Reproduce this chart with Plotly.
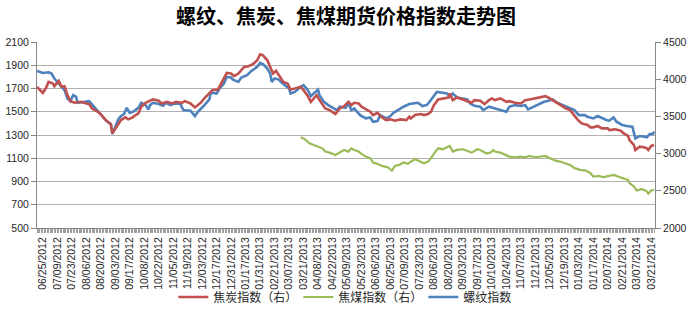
import plotly.graph_objects as go

title_text = "螺纹、焦炭、焦煤期货价格指数走势图"

tick_labels = [
    "06/25/2012", "07/09/2012", "07/23/2012", "08/06/2012", "08/20/2012", "09/03/2012",
    "09/17/2012", "10/08/2012", "10/22/2012", "11/05/2012", "11/19/2012", "12/03/2012",
    "12/17/2012", "12/31/2012", "01/17/2013", "01/31/2013", "02/21/2013", "03/07/2013",
    "03/21/2013", "04/08/2013", "04/22/2013", "05/09/2013", "05/23/2013", "06/06/2013",
    "06/25/2013", "07/09/2013", "07/23/2013", "08/06/2013", "08/20/2013", "09/03/2013",
    "09/17/2013", "10/10/2013", "10/24/2013", "11/07/2013", "11/21/2013", "12/05/2013",
    "12/19/2013", "01/03/2014", "01/17/2014", "02/07/2014", "02/21/2014", "03/07/2014",
    "03/21/2014",
]
days_per_label = 10

# 螺纹指数 (left axis): trading-day index, value
rebar_days = [
    -4, 0, 4, 6, 8, 12, 15, 17, 19, 21, 23, 24, 28, 32, 35, 38, 41, 44, 47, 48, 50, 52, 54, 56, 58,
    60, 62, 63, 66, 68, 71, 73, 74, 76, 80, 83, 85, 88, 91, 95, 97,
    98, 102, 105, 107, 111, 115, 116, 120, 122, 125, 127, 130, 131, 135, 137, 141, 144, 148, 150,
    152, 155, 157, 158, 160, 163, 165, 168, 170, 171, 174, 178, 180, 183, 185, 187, 190, 191, 194,
    197, 199, 203,
    205, 209, 211, 213, 215, 219, 223, 226, 228, 231, 233, 237, 240, 242, 246, 249, 253, 256, 259,
    262, 265, 267, 270, 272, 276, 279, 281, 283, 286, 289, 293, 295, 298, 302, 304, 308,
    312, 316, 320, 322, 326, 330, 333, 335, 339, 342, 346, 349, 352, 355, 359, 362, 365, 367, 370,
    374, 376, 380, 383, 386, 389, 391, 394, 396, 400, 403, 407, 409, 412, 415, 417, 419, 421, 422,
]
rebar_vals = [
    1851, 1834, 1840, 1829, 1786, 1729, 1686, 1614, 1591, 1643, 1629, 1577, 1586, 1591, 1549, 1506,
    1471, 1420, 1394, 1309, 1366, 1434, 1463, 1480, 1534, 1491, 1500, 1506, 1534, 1577, 1557, 1520,
    1557, 1577, 1566, 1551, 1577, 1557, 1571, 1566, 1514,
    1514, 1509, 1463, 1500, 1549, 1606, 1663, 1657, 1700, 1743, 1800, 1794, 1777, 1757, 1794, 1814,
    1851, 1886, 1920, 1909, 1871, 1829, 1757, 1786, 1777, 1749, 1720, 1700, 1657, 1671, 1714, 1729,
    1686, 1634, 1657, 1691, 1643, 1586, 1557, 1543, 1514,
    1543, 1534, 1571, 1514, 1529, 1471, 1443, 1451, 1414, 1420, 1471, 1443, 1463, 1491, 1520, 1543,
    1566, 1571, 1577, 1549, 1557, 1586, 1634, 1671, 1663, 1657, 1634, 1657, 1623, 1614, 1606, 1571,
    1551, 1543, 1514, 1543,
    1529, 1514, 1500, 1543, 1557, 1549, 1557, 1520, 1543, 1566, 1586, 1594, 1606, 1577, 1557, 1543,
    1529, 1514, 1471, 1471, 1457, 1443, 1463, 1443, 1429, 1423, 1451, 1414, 1386, 1377, 1371, 1271,
    1291, 1286, 1280, 1309, 1309, 1329,
]

# 焦炭指数 (right axis)
coke_days = [
    -4, -2, 0, 2, 4, 7, 8, 11, 13, 15, 17, 19, 22, 26, 29, 32, 34, 36, 39, 43, 47, 48, 51, 54, 57,
    59, 62, 63, 66, 68, 71, 74, 76, 80, 82, 86, 89, 92, 96,
    98, 102, 105, 109, 112, 116, 117, 121, 124, 127, 130, 132, 135, 139, 142, 145, 148, 150, 152,
    155, 157, 159, 161, 164, 166, 169, 171, 174, 178, 180, 183, 185, 187, 189, 191, 195, 198, 202,
    205, 208, 211, 213, 215, 218, 220, 224, 226, 228, 231, 233, 237, 240, 243, 247, 251, 253, 254,
    257, 261, 263, 266, 268, 270, 273, 277, 280, 281, 283, 286, 290, 293, 296, 298, 302, 305, 308, 310,
    312, 316, 320, 322, 326, 330, 333, 336, 340, 343, 347, 350, 354, 357, 361, 364, 366, 369, 372,
    376, 378, 380, 383, 386, 390, 391, 395, 399, 401, 404, 405, 408, 409, 412, 415, 417, 418, 420, 422,
]
coke_vals = [
    3897, 3853, 3817, 3875, 3964, 3942, 3906, 3978, 3897, 3906, 3786, 3705, 3683, 3696, 3683, 3665,
    3607, 3585, 3549, 3460, 3393, 3272, 3371, 3451, 3487, 3460, 3487, 3505, 3540, 3630, 3683, 3705,
    3728, 3710, 3674, 3696, 3674, 3696, 3683,
    3705, 3674, 3621, 3683, 3754, 3830, 3853, 3862, 3964, 4085, 4076, 4040, 4076, 4165, 4174, 4201,
    4254, 4335, 4321, 4254, 4165, 4076, 4112, 4022, 3964, 3942, 3862, 3875, 3897, 3853, 3772, 3696,
    3741, 3786, 3719, 3607, 3585, 3531,
    3607, 3638, 3696, 3652, 3683, 3674, 3630, 3585, 3563, 3518, 3549, 3505, 3451, 3460, 3442, 3460,
    3451, 3496, 3473, 3518, 3531, 3518, 3531, 3563, 3652, 3728, 3741, 3754, 3808, 3719, 3754, 3728,
    3705, 3683, 3719, 3710, 3665, 3719, 3741,
    3719, 3741, 3696, 3705, 3683, 3674, 3719, 3728, 3741, 3754, 3772, 3741, 3696, 3652, 3607, 3585,
    3531, 3460, 3406, 3384, 3353, 3353, 3371, 3339, 3339, 3317, 3326, 3308, 3272, 3237, 3183, 3116,
    3049, 3094, 3085, 3071, 3049, 3103, 3116,
]

# 焦煤指数 (right axis)
coal_days = [
    178, 181, 184, 187, 190, 193, 195, 198, 202,
    205, 208, 211, 213, 215, 218, 220, 223, 226, 228, 231, 234, 238, 241, 243, 246, 249, 252, 254,
    257, 259, 263, 266, 268, 271, 273, 276, 279, 281, 283, 286, 290, 293, 296, 300, 302, 306, 309, 311,
    312, 316, 320, 322, 326, 330, 333, 336, 340, 343, 347, 350, 354, 357, 361, 364, 367, 371, 375,
    378, 380, 384, 387, 390, 394, 397, 400, 404, 405, 408, 410, 413, 415, 417, 418, 420, 422,
]
coal_vals = [
    3219, 3192, 3138, 3116, 3103, 3071, 3027, 3013, 2982,
    3013, 3049, 3027, 3071, 3049, 3027, 2995, 2960, 2938, 2880, 2862, 2835, 2817, 2772, 2835, 2848,
    2880, 2862, 2893, 2924, 2906, 2871, 2893, 2938, 3027, 3071, 3058, 3085, 3103, 3027, 3049, 3058,
    3040, 3013, 3058, 3049, 3004, 3013, 3049,
    3027, 3013, 2982, 2960, 2951, 2960, 2951, 2969, 2951, 2960, 2969, 2938, 2906, 2893, 2862, 2848,
    2804, 2781, 2772, 2737, 2692, 2701, 2683, 2692, 2714, 2692, 2670, 2647, 2603, 2558, 2504, 2522,
    2513, 2491, 2460, 2504, 2513,
]

RED = "#C0504D"
GREEN = "#9BBB59"
BLUE = "#4F81BD"
AXIS = "#868686"
GRID = "#B0B0B0"
TXT = "#262626"

fig = go.Figure()
fig.add_trace(go.Scatter(x=coke_days, y=coke_vals, name="焦炭指数（右）", mode="lines",
                         line=dict(color=RED, width=2.6), yaxis="y2"))
fig.add_trace(go.Scatter(x=coal_days, y=coal_vals, name="焦煤指数（右）", mode="lines",
                         line=dict(color=GREEN, width=2.2), yaxis="y2"))
fig.add_trace(go.Scatter(x=rebar_days, y=rebar_vals, name="螺纹指数", mode="lines",
                         line=dict(color=BLUE, width=2.6), yaxis="y"))

# a tick mark on every trading day, a date label on every tenth one
first_day = min(rebar_days)
last_day = max(rebar_days)
all_days = list(range(first_day, last_day + 1))
label_at = {i * days_per_label: lab for i, lab in enumerate(tick_labels)}
all_text = [label_at.get(d, "") for d in all_days]

fig.update_layout(
    width=697, height=310,
    margin=dict(l=37, r=42, t=42, b=82, autoexpand=False),
    paper_bgcolor="white", plot_bgcolor="white",
    font=dict(family="Liberation Sans, Arial, sans-serif", color=TXT),
    title=dict(text=title_text, x=0.5, xref="paper", xanchor="center",
               y=1 - 17 / 310, yref="container", yanchor="middle",
               font=dict(family="Noto Sans CJK SC", size=20, color="#000000", weight="bold")),
    xaxis=dict(range=[first_day, last_day + 0.6], tickmode="array", tickvals=all_days,
               ticktext=all_text, tickangle=-90, tickfont=dict(size=10.5, color=TXT),
               automargin=False, ticks="outside", ticklen=4, tickcolor="#A0A0A0", tickwidth=1,
               showline=True, linecolor=AXIS, showgrid=False, zeroline=False),
    yaxis=dict(range=[500, 2100], tick0=500, dtick=200, tickfont=dict(size=10.5, color=TXT),
               ticks="outside", ticklen=5, tickcolor=AXIS, showline=True, linecolor=AXIS,
               showgrid=True, gridcolor=GRID, gridwidth=1, zeroline=False, automargin=False),
    yaxis2=dict(range=[2000, 4500], tick0=2000, dtick=500, overlaying="y", side="right",
                tickfont=dict(size=10.5, color=TXT), ticks="outside", ticklen=5, automargin=False,
                tickcolor=AXIS, showline=True, linecolor=AXIS, showgrid=False, zeroline=False),
    legend=dict(orientation="h", x=0.524, xref="paper", xanchor="center",
                y=13 / 310, yref="container", yanchor="middle",
                font=dict(family="Noto Sans CJK SC", size=12, color=TXT),
                itemwidth=30, entrywidth=80, bgcolor="rgba(0,0,0,0)"),
    showlegend=True,
)

fig.write_html("out.html")
